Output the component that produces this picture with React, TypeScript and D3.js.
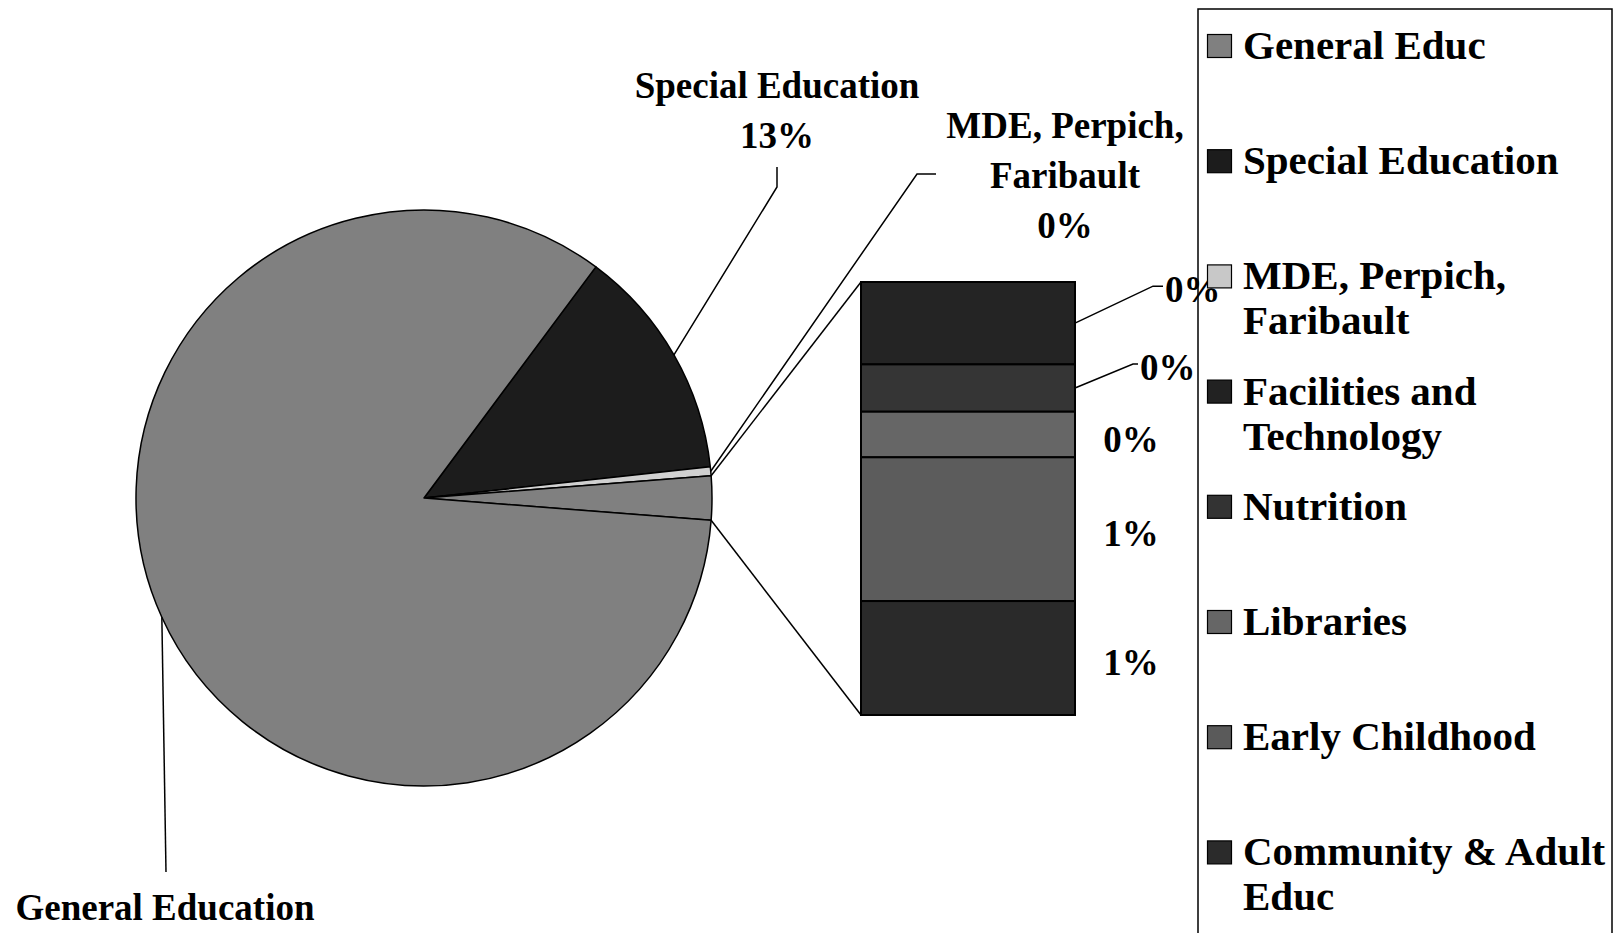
import React, { useRef, useEffect } from 'react';
import * as d3 from 'd3';

// pie slices (the bar items make up the "other" slice)
const pieCategories = ['General Education', 'Special Education', 'MDE, Perpich, Faribault'];
const pieValues = [83.95, 13.1, 0.49];
const pieColors = ['#808080', '#1c1c1c', '#d0d0d0'];
const otherColor = '#808080';

// stacked bar, top to bottom
const barCategories = ['Facilities and Technology', 'Nutrition', 'Libraries', 'Early Childhood', 'Community & Adult Educ'];
const barValues = [0.47, 0.27, 0.26, 0.82, 0.65];
const barColors = ['#242424', '#353535', '#666666', '#5c5c5c', '#2a2a2a'];

const legendLabels = [
  ['General Educ'],
  ['Special Education'],
  ['MDE, Perpich,', 'Faribault'],
  ['Facilities and', 'Technology'],
  ['Nutrition'],
  ['Libraries'],
  ['Early Childhood'],
  ['Community & Adult', 'Educ'],
];
const legendColors = ['#808080', '#1c1c1c', '#c8c8c8', '#222222', '#333333', '#666666', '#5a5a5a', '#2b2b2b'];

const W = 1621;
const H = 933;
const FONT = '"Liberation Serif", "Times New Roman", serif';

const cx = 424;
const cy = 498;
const radius = 288;

const bar = { x: 861, y: 282, w: 214, h: 433 };

// label placement for the pie labels: text centre x, first baseline, leader end + elbow
const pieLabelLayout: Record<string, { x: number; y: number; lines: string[]; elbow: [number, number]; end: [number, number] }> = {
  'Special Education': { x: 777, y: 98, lines: ['Special Education'], elbow: [777, 187], end: [777, 167] },
  'MDE, Perpich, Faribault': { x: 1065, y: 138, lines: ['MDE, Perpich,', 'Faribault'], elbow: [917, 174], end: [936, 174] },
  'General Education': { x: 165, y: 920, lines: ['General Education'], elbow: [166, 872], end: [166, 872] },
};

// leaders for the first two bar labels (offset from bar right edge / segment centre)
const barLeader: ({ dx: number; dy: number; run: number } | null)[] = [
  { dx: 78, dy: -37, run: 10 },
  { dx: 58, dy: -24, run: 5 },
  null,
  null,
  null,
];

export default function App() {
  const svgRef = useRef<SVGSVGElement>(null);

  const otherTotal = d3.sum(barValues);
  const total = d3.sum(pieValues) + otherTotal;
  const pct = (v: number) => `${Math.round((v / total) * 100)}%`;

  // clockwise order as drawn: Special Ed, MDE, Other, General Ed
  const slices = [
    { key: pieCategories[1], value: pieValues[1], color: pieColors[1] },
    { key: pieCategories[2], value: pieValues[2], color: pieColors[2] },
    { key: 'Other', value: otherTotal, color: otherColor },
    { key: pieCategories[0], value: pieValues[0], color: pieColors[0] },
  ];
  // centre the "other" slice on 3 o'clock
  const before = (slices[0].value + slices[1].value + slices[2].value / 2) / total;
  const start = Math.PI / 2 - before * 2 * Math.PI;

  const pie = d3
    .pie<{ key: string; value: number; color: string }>()
    .sort(null)
    .value((d) => d.value)
    .startAngle(start)
    .endAngle(start + 2 * Math.PI);
  const arcs = pie(slices);
  const arcGen = d3.arc<d3.PieArcDatum<any>>().innerRadius(0).outerRadius(radius);

  const pt = (a: number, r = radius): [number, number] => [cx + r * Math.sin(a), cy - r * Math.cos(a)];

  const otherArc = arcs.find((a) => a.data.key === 'Other')!;

  const yScale = d3.scaleLinear().domain([0, otherTotal]).range([bar.y, bar.y + bar.h]);
  const cum = d3.cumsum(barValues);
  const segs = barValues.map((v, i) => ({
    name: barCategories[i],
    value: v,
    y0: yScale(cum[i] - v),
    y1: yScale(cum[i]),
    color: barColors[i],
  }));

  useEffect(() => {
    const svg = d3.select(svgRef.current);
    const maxW = 1606 - 1243;
    svg.selectAll<SVGTextElement, unknown>('text.legend-line').each(function () {
      const w = this.getComputedTextLength();
      if (w > maxW) {
        d3.select(this).attr('textLength', maxW).attr('lengthAdjust', 'spacingAndGlyphs');
      }
    });
  }, []);

  const legendY0 = 46;
  const legendStep = 115.2;

  return (
    <svg
      ref={svgRef}
      width={W}
      height={H}
      style={{ position: 'absolute', left: 0, top: 0, background: '#fff' }}
      fontFamily={FONT}
      fontWeight="bold"
    >
      <rect x={0} y={0} width={W} height={H} fill="#fff" />

      {/* pie */}
      <g transform={`translate(${cx},${cy})`}>
        {arcs.map((a) => (
          <path key={a.data.key} d={arcGen(a) || ''} fill={a.data.color} stroke="#000" strokeWidth={1.5} strokeLinejoin="round" />
        ))}
      </g>

      {/* connectors pie -> bar */}
      {(() => {
        const p1 = pt(otherArc.startAngle);
        const p2 = pt(otherArc.endAngle);
        return (
          <g stroke="#000" strokeWidth={1.5} fill="none">
            <line x1={p1[0]} y1={p1[1]} x2={bar.x} y2={bar.y} />
            <line x1={p2[0]} y1={p2[1]} x2={bar.x} y2={bar.y + bar.h} />
          </g>
        );
      })()}

      {/* bar */}
      {segs.map((s) => (
        <rect key={s.name} x={bar.x} y={s.y0} width={bar.w} height={s.y1 - s.y0} fill={s.color} stroke="#000" strokeWidth={2} />
      ))}

      {/* pie labels + leaders */}
      {arcs
        .filter((a) => a.data.key !== 'Other')
        .map((a) => {
          const lay = pieLabelLayout[a.data.key];
          const mid = (a.startAngle + a.endAngle) / 2;
          const edge = pt(mid);
          const lines = [...lay.lines, a.data.key === 'General Education' ? '' : pct(a.data.value)].filter((l) => l);
          return (
            <g key={a.data.key}>
              <polyline
                points={[edge, lay.elbow, lay.end].map((p) => p.join(',')).join(' ')}
                fill="none"
                stroke="#000"
                strokeWidth={1.5}
              />
              <text x={lay.x} y={lay.y} textAnchor="middle" fontSize={37} fill="#000">
                {lines.map((l, i) => (
                  <tspan key={i} x={lay.x} dy={i === 0 ? 0 : 50}>
                    {l}
                  </tspan>
                ))}
              </text>
            </g>
          );
        })}

      {/* bar labels */}
      {segs.map((s, i) => {
        const cyS = (s.y0 + s.y1) / 2;
        const right = bar.x + bar.w;
        const ld = barLeader[i];
        if (ld) {
          const ex = right + ld.dx;
          const ey = cyS + ld.dy;
          return (
            <g key={s.name}>
              <polyline
                points={`${right},${cyS} ${ex},${ey} ${ex + ld.run},${ey}`}
                fill="none"
                stroke="#000"
                strokeWidth={1.5}
              />
              <text x={ex + ld.run + 2} y={ey + 16} fontSize={37} fill="#000">
                {pct(s.value)}
              </text>
            </g>
          );
        }
        return (
          <text key={s.name} x={right + 56} y={cyS + 17} textAnchor="middle" fontSize={37} fill="#000">
            {pct(s.value)}
          </text>
        );
      })}

      {/* legend */}
      <rect x={1198} y={9} width={414} height={1000} fill="none" stroke="#000" strokeWidth={1.5} />
      {legendLabels.map((lines, i) => {
        const y = legendY0 + legendStep * i;
        return (
          <g key={i}>
            <rect x={1207.5} y={y - 11.5} width={24} height={23} fill={legendColors[i]} stroke="#000" strokeWidth={1.2} />
            {lines.map((l, j) => (
              <text key={j} className="legend-line" x={1243} y={y + 13 + j * 45} fontSize={41} fill="#000">
                {l}
              </text>
            ))}
          </g>
        );
      })}
    </svg>
  );
}
